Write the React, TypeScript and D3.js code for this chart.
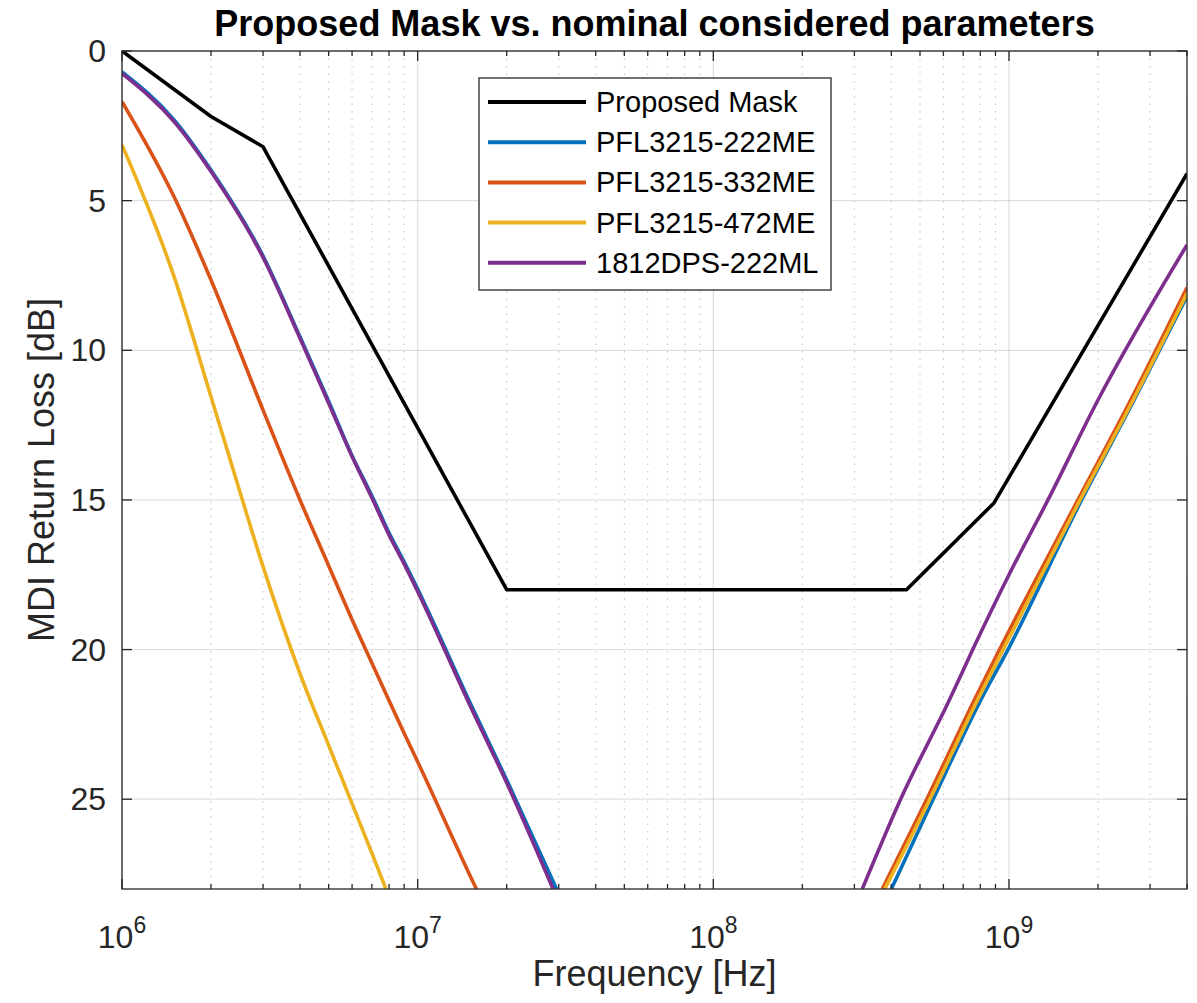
import React, { useEffect } from "react";
import * as d3 from "d3";

// [frequency Hz, return loss dB]
const maskPoints: [number, number][] = [
  [1e6, 0], [2e6, 2.19], [3e6, 3.2], [2e7, 18], [4.5e8, 18], [8.9e8, 15.1], [4e9, 4.1],
];

const pfl222Low: [number, number][] = [
  [1e6, 0.7], [1.5e6, 2.3], [2e6, 3.98], [3e6, 6.85], [4e6, 9.55], [5e6, 11.7], [6e6, 13.52],
  [7e6, 14.86], [8e6, 16.1], [9e6, 17.07], [1e7, 17.98], [1.5e7, 21.75], [2e7, 24.35], [2.95e7, 28],
];
const pfl222High: [number, number][] = [
  [4.0e8, 28], [5.54e8, 25], [8.03e8, 21.68], [9.92e8, 20], [1.76e9, 15], [2.65e9, 11.66], [4e9, 8.2],
];

const pfl332Low: [number, number][] = [
  [1e6, 1.69], [1.5e6, 4.87], [2e6, 7.65], [3e6, 12.0], [4e6, 15.0], [5e6, 17.2],
  [6e6, 19.0], [7e6, 20.45], [8e6, 21.7], [9e6, 22.8], [1e7, 23.75], [1.5e7, 27.53], [1.58e7, 28],
];
const pfl332High: [number, number][] = [
  [3.73e8, 28], [5.27e8, 25], [7.64e8, 21.68], [9.29e8, 20], [1.71e9, 15], [2.58e9, 11.66], [4e9, 7.9],
];

const pfl472Low: [number, number][] = [
  [1e6, 3.14], [1.5e6, 7.54], [2e6, 11.55], [2.5e6, 14.7], [3e6, 17.23], [4e6, 20.8], [5e6, 23.2],
  [6e6, 25.15], [7e6, 26.8], [7.81e6, 28],
];
const pfl472High: [number, number][] = [
  [3.8e8, 28], [5.4e8, 25], [7.83e8, 21.68], [9.55e8, 20], [1.74e9, 15], [2.63e9, 11.66], [4e9, 8.1],
];

const dps222Low: [number, number][] = [
  [1e6, 0.75], [1.5e6, 2.36], [2e6, 4.03], [3e6, 6.9], [4e6, 9.6], [5e6, 11.77], [6e6, 13.55],
  [7e6, 14.93], [8e6, 16.17], [9e6, 17.14], [1e7, 18.06], [1.5e7, 21.85], [2e7, 24.45], [2.87e7, 28],
];
const dps222High: [number, number][] = [
  [3.19e8, 28], [4.3e8, 25], [6.29e8, 21.68], [7.54e8, 20], [1.0e9, 17.5], [1.355e9, 15], [2.0e9, 11.66], [4e9, 6.48],
];

const seriesNames = ["Proposed Mask", "PFL3215-222ME", "PFL3215-332ME", "PFL3215-472ME", "1812DPS-222ML"];
const seriesColors = ["#000000", "#0072BD", "#D95319", "#EDB120", "#7E2F8E"];
const seriesData = [
  [maskPoints],
  [pfl222Low, pfl222High],
  [pfl332Low, pfl332High],
  [pfl472Low, pfl472High],
  [dps222Low, dps222High],
];

const yTicks = [0, 5, 10, 15, 20, 25];
const xDecades = [6, 7, 8, 9];

const W = 1197;
const H = 1003;
const margin = { top: 51, right: 10, bottom: 114, left: 122 };
const FONT = "'Liberation Sans', Arial, Helvetica, sans-serif";
const AXIS = "#262626";

const App: React.FC = () => {
  useEffect(() => {
    document.body.style.margin = "0";
  }, []);

  const x = d3.scaleLog().domain([1e6, 4e9]).range([margin.left, W - margin.right]);
  const y = d3.scaleLinear().domain([0, 28]).range([margin.top, H - margin.bottom]);
  const [x0, x1] = x.range();
  const [y0, y1] = y.range();

  // the mask is piecewise linear, the measured curves are smooth
  const maskLine = d3.line<[number, number]>()
    .x(d => x(d[0]))
    .y(d => y(d[1]));
  const smoothLine = d3.line<[number, number]>()
    .x(d => x(d[0]))
    .y(d => y(d[1]))
    .curve(d3.curveMonotoneX);

  // minor tick positions (2..9 within each decade)
  const minor: number[] = [];
  xDecades.forEach(e => {
    for (let k = 2; k <= 9; k++) {
      const f = k * Math.pow(10, e);
      if (f <= 4e9) minor.push(f);
    }
  });
  const major = xDecades.map(e => Math.pow(10, e));

  // legend layout
  const lg = { x: 479, y: 78, w: 352, h: 212, row: 40.2 };

  return (
    <svg width={W} height={H} style={{ display: "block", background: "#fff" }} fontFamily={FONT}>
      <defs>
        <clipPath id="plot">
          <rect x={x0} y={y0} width={x1 - x0} height={y1 - y0} />
        </clipPath>
      </defs>

      {/* grid */}
      <g>
        {minor.map(f => (
          <line key={"mg" + f} x1={x(f)} x2={x(f)} y1={y0} y2={y1}
            stroke={AXIS} strokeOpacity={0.3} strokeWidth={1} strokeDasharray="1.5 6" />
        ))}
        {major.map(f => (
          <line key={"Mg" + f} x1={x(f)} x2={x(f)} y1={y0} y2={y1}
            stroke={AXIS} strokeOpacity={0.15} strokeWidth={1.2} />
        ))}
        {yTicks.map(t => (
          <line key={"yg" + t} x1={x0} x2={x1} y1={y(t)} y2={y(t)}
            stroke={AXIS} strokeOpacity={0.15} strokeWidth={1.2} />
        ))}
      </g>

      {/* series */}
      <g clipPath="url(#plot)">
        {seriesData.map((branches, i) =>
          branches.map((pts, j) => (
            <path key={`s${i}-${j}`} d={(i === 0 ? maskLine(pts) : smoothLine(pts)) || ""} fill="none"
              stroke={seriesColors[i]} strokeWidth={3.6} strokeLinejoin="round" />
          ))
        )}
      </g>

      {/* axes box and ticks */}
      <g stroke={AXIS} strokeWidth={1.3}>
        <rect x={x0} y={y0} width={x1 - x0} height={y1 - y0} fill="none" />
        {minor.map(f => (
          <g key={"mt" + f}>
            <line x1={x(f)} x2={x(f)} y1={y1} y2={y1 - 5} />
            <line x1={x(f)} x2={x(f)} y1={y0} y2={y0 + 5} />
          </g>
        ))}
        {major.map(f => (
          <g key={"Mt" + f}>
            <line x1={x(f)} x2={x(f)} y1={y1} y2={y1 - 10} />
            <line x1={x(f)} x2={x(f)} y1={y0} y2={y0 + 10} />
          </g>
        ))}
        {yTicks.map(t => (
          <g key={"yt" + t}>
            <line x1={x0} x2={x0 + 10} y1={y(t)} y2={y(t)} />
            <line x1={x1} x2={x1 - 10} y1={y(t)} y2={y(t)} />
          </g>
        ))}
      </g>

      {/* tick labels */}
      <g fill={AXIS} fontSize={32}>
        {yTicks.map(t => (
          <text key={"yl" + t} x={x0 - 16} y={y(t)} textAnchor="end" dominantBaseline="central">{t}</text>
        ))}
        {xDecades.map(e => (
          <text key={"xl" + e} x={x(Math.pow(10, e))} y={948} textAnchor="middle">
            10<tspan fontSize={23} dy={-15}>{e}</tspan>
          </text>
        ))}
      </g>

      {/* axis labels and title */}
      <text x={(x0 + x1) / 2} y={986} textAnchor="middle" fontSize={36} fill={AXIS}>Frequency [Hz]</text>
      <text transform={`translate(54, ${(y0 + y1) / 2}) rotate(-90)`} textAnchor="middle"
        fontSize={36} fill={AXIS}>MDI Return Loss [dB]</text>
      <text x={(x0 + x1) / 2} y={36} textAnchor="middle" fontSize={36} fontWeight="bold" fill="#000">
        Proposed Mask vs. nominal considered parameters
      </text>

      {/* legend */}
      <g>
        <rect x={lg.x} y={lg.y} width={lg.w} height={lg.h} fill="#fff" stroke={AXIS} strokeWidth={1.3} />
        {seriesNames.map((name, i) => {
          const cy = lg.y + 24 + i * lg.row;
          return (
            <g key={name}>
              <line x1={lg.x + 9} x2={lg.x + 107} y1={cy} y2={cy} stroke={seriesColors[i]} strokeWidth={4} />
              <text x={lg.x + 117} y={cy} dominantBaseline="central" fontSize={29} fill="#000">{name}</text>
            </g>
          );
        })}
      </g>
    </svg>
  );
};

export default App;
